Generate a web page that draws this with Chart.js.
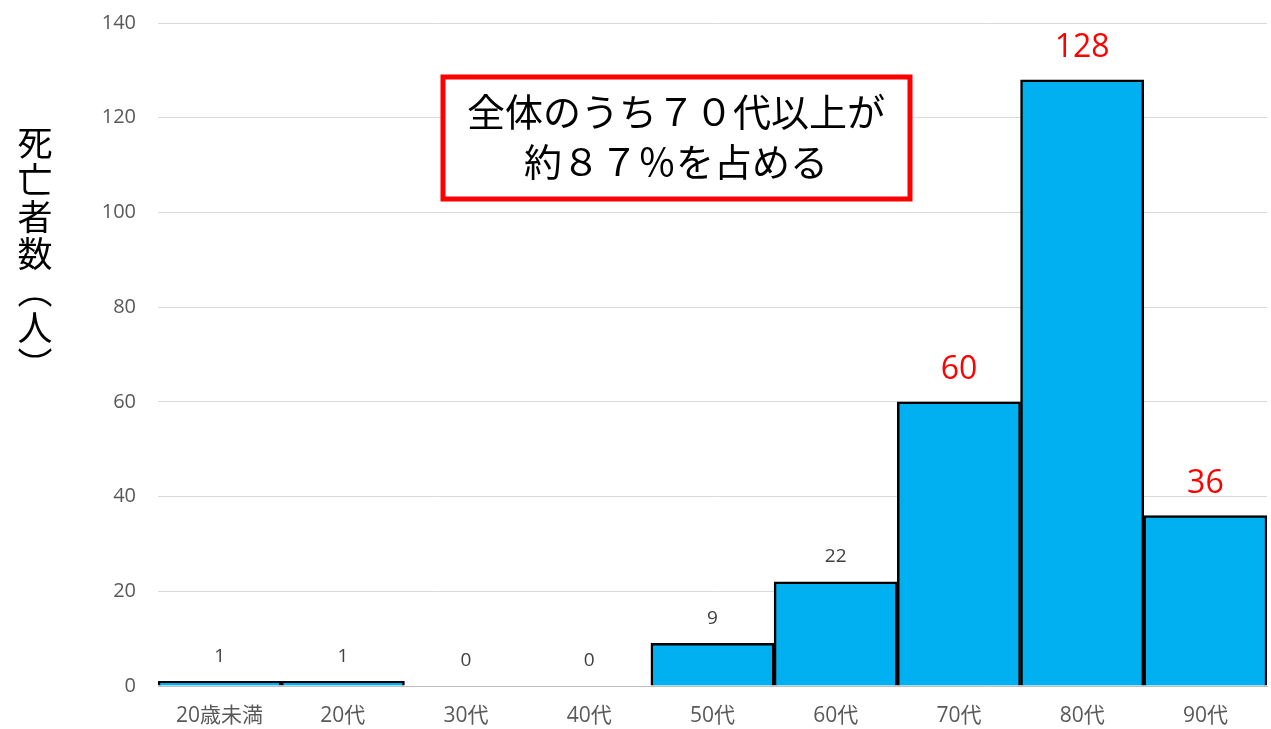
<!DOCTYPE html>
<html>
<head>
<meta charset="utf-8">
<script src="https://cdn.jsdelivr.net/npm/chart.js@4"></script>
<style>
  html, body { margin: 0; padding: 0; background: #fff; }
  #wrap { width: 1271px; height: 729px; }
</style>
</head>
<body>
<div id="wrap"><canvas id="deaths-chart" width="1271" height="729"></canvas></div>
<script>
// Data
const ageGroups = ['20歳未満', '20代', '30代', '40代', '50代', '60代', '70代', '80代', '90代'];
const deaths = [1, 1, 0, 0, 9, 22, 60, 128, 36];
const highlighted = [false, false, false, false, false, false, true, true, true];
const yTicks = [0, 20, 40, 60, 80, 100, 120, 140];
const yTitle = '死亡者数（人）';
const noteLines = ['全体のうち７０代以上が', '約８７％を占める'];

const JP_FONT = '"Noto Sans CJK JP", "Noto Sans", sans-serif';
const TICK_FONT = '"Open Sans", "Noto Sans CJK JP", sans-serif';

// Value labels above each bar
const valueLabels = {
  id: 'valueLabels',
  afterDatasetsDraw(chart) {
    const ctx = chart.ctx;
    const meta = chart.getDatasetMeta(0);
    ctx.save();
    ctx.textAlign = 'center';
    ctx.textBaseline = 'middle';
    meta.data.forEach((bar, i) => {
      if (highlighted[i]) {
        ctx.fillStyle = '#ff0000';
        ctx.font = '32px ' + TICK_FONT;
        ctx.fillText(String(deaths[i]), bar.x, bar.y - 32);
      } else {
        ctx.fillStyle = '#404040';
        ctx.font = '19px ' + TICK_FONT;
        ctx.fillText(String(deaths[i]), bar.x, bar.y - 25);
      }
    });
    ctx.restore();
  }
};

// Vertical axis title + callout box
const decorations = {
  id: 'decorations',
  afterDraw(chart) {
    const ctx = chart.ctx;
    ctx.save();

    // vertical title, one glyph per line
    ctx.fillStyle = '#000';
    ctx.font = '35px ' + JP_FONT;
    ctx.textAlign = 'center';
    ctx.textBaseline = 'middle';
    const vert = { '（': '︵', '）': '︶' };
    Array.from(yTitle).forEach((ch, i) => {
      ctx.fillText(vert[ch] || ch, 35, 143 + i * 37);
    });

    // callout
    ctx.fillStyle = '#fff';
    ctx.fillRect(443, 77, 467, 122);
    ctx.strokeStyle = '#ff0000';
    ctx.lineWidth = 5;
    ctx.strokeRect(443, 77, 467, 122);
    ctx.fillStyle = '#000';
    ctx.font = '38px ' + JP_FONT;
    ctx.fillText(noteLines[0], 676, 112);
    ctx.fillText(noteLines[1], 676, 162);

    ctx.restore();
  }
};

const ctx = document.getElementById('deaths-chart').getContext('2d');
new Chart(ctx, {
  type: 'bar',
  data: {
    labels: ageGroups,
    datasets: [{
      data: deaths,
      backgroundColor: '#00b0f0',
      borderColor: '#000',
      borderWidth: 2.5,
      borderSkipped: 'bottom',
      categoryPercentage: 1,
      barPercentage: 1
    }]
  },
  options: {
    responsive: false,
    animation: false,
    layout: { padding: { top: 23, right: 4, left: 0, bottom: 0 } },
    plugins: {
      legend: { display: false },
      tooltip: { enabled: false }
    },
    scales: {
      x: {
        grid: { display: false },
        border: { display: true, color: '#bfbfbf', width: 1 },
        ticks: {
          color: '#595959',
          font: { size: 21, family: TICK_FONT },
          padding: 9,
          maxRotation: 0
        },
        afterFit(scale) { scale.height = 43; }
      },
      y: {
        min: 0,
        max: 140,
        afterBuildTicks(scale) { scale.ticks = yTicks.map(v => ({ value: v })); },
        grid: { color: '#d9d9d9', lineWidth: 1, drawTicks: false },
        border: { display: false },
        ticks: {
          color: '#595959',
          font: { size: 20, family: TICK_FONT },
          padding: 22
        },
        afterFit(scale) {
          scale.width = 158;
          scale.paddingTop = 0;
          scale.paddingBottom = 0;
        }
      }
    }
  },
  plugins: [valueLabels, decorations]
});
</script>
</body>
</html>
